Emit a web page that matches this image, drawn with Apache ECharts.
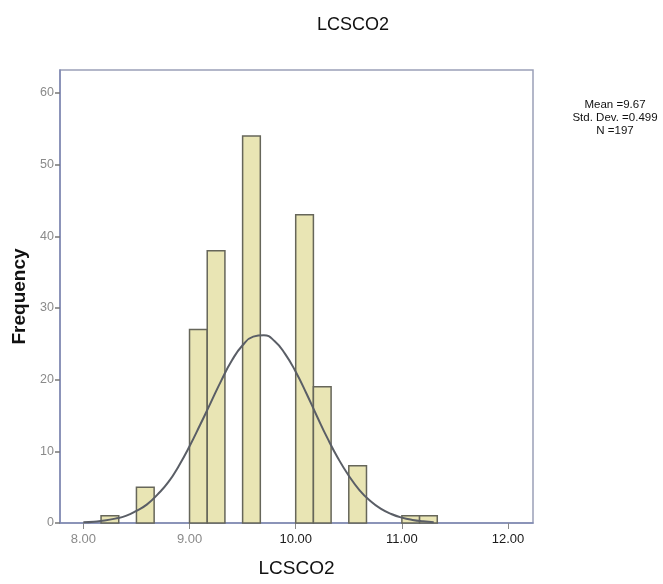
<!DOCTYPE html>
<html>
<head>
<meta charset="utf-8">
<script src="https://cdn.jsdelivr.net/npm/echarts@6/dist/echarts.min.js"></script>
<style>
  html, body { margin: 0; padding: 0; background: #fff; }
  #chart { width: 663px; height: 584px; }
</style>
</head>
<body>
<div id="chart"></div>
<script>
  // histogram bins (lower edge) and counts, bin width 1/6
  const binLows = [8.1667, 8.5, 9.0, 9.1667, 9.5, 10.0, 10.1667, 10.5, 11.0, 11.1667];
  const counts = [1, 5, 27, 38, 54, 43, 19, 8, 1, 1];
  const binWidth = 1 / 6;

  // normal curve
  const curveX = [8.0, 8.1, 8.2, 8.3, 8.4, 8.5, 8.6, 8.7, 8.8, 8.9, 9.0, 9.1, 9.2, 9.3, 9.4, 9.5, 9.6, 9.7,
                  9.8, 9.9, 10.0, 10.1, 10.2, 10.3, 10.4, 10.5, 10.6, 10.7, 10.8, 10.9, 11.0, 11.1, 11.2, 11.3];
  const curveY = [0.1, 0.19, 0.34, 0.61, 1.0, 1.7, 2.6, 4.0, 5.7, 8.0, 10.7, 13.7, 16.8, 19.9, 22.7, 24.8, 26.0, 26.2,
                  25.4, 23.6, 21.1, 18.1, 14.9, 11.8, 9.0, 6.6, 4.6, 3.1, 2.0, 1.26, 0.75, 0.43, 0.24, 0.12];

  const xTicks = [8, 9, 10, 11, 12];
  const yTicks = [0, 10, 20, 30, 40, 50, 60];
  const stats = ['Mean =9.67', 'Std. Dev. =0.499', 'N =197'];

  const chart = echarts.init(document.getElementById('chart'));

  const axisBlue = '#7f89b3';
  const font = 'Arial, "Liberation Sans", sans-serif';

  chart.setOption({
    backgroundColor: '#fff',
    animation: false,
    title: {
      text: 'LCSCO2',
      left: 348,
      top: 11,
      textAlign: 'center',
      textStyle: { fontFamily: font, fontSize: 18, fontWeight: 'normal', color: '#111' }
    },
    graphic: [{
      type: 'text',
      x: 615,
      y: 98,
      style: {
        text: stats.join('\n'),
        fontFamily: font,
        fontSize: 11.5,
        lineHeight: 13,
        fill: '#111',
        align: 'center',
        verticalAlign: 'top'
      }
    }],
    grid: {
      left: 60, right: 130, top: 70, bottom: 61,
      show: true,
      borderColor: '#9aa0b8',
      borderWidth: 1.5,
      backgroundColor: '#fff'
    },
    xAxis: {
      type: 'value',
      min: 7.78,
      max: 12.235,
      name: 'LCSCO2',
      nameLocation: 'middle',
      nameGap: 36,
      nameTextStyle: { fontFamily: font, fontSize: 19, color: '#111' },
      axisLine: { show: true, lineStyle: { color: axisBlue, width: 1.5 } },
      axisTick: { show: true, customValues: xTicks, length: 6, lineStyle: { color: '#888' } },
      axisLabel: {
        customValues: xTicks,
        margin: 10,
        fontFamily: font,
        fontSize: 13,
        formatter: (v) => {
          const s = v.toFixed(2);
          return v >= 10 ? '{d|' + s + '}' : '{g|' + s + '}';
        },
        rich: {
          d: { color: '#1a1a1a', fontFamily: font, fontSize: 13 },
          g: { color: '#8a8a8a', fontFamily: font, fontSize: 13 }
        }
      },
      splitLine: { show: false }
    },
    yAxis: {
      type: 'value',
      min: 0,
      max: 63.2,
      name: 'Frequency',
      nameLocation: 'middle',
      nameGap: 31,
      nameRotate: 90,
      nameTextStyle: { fontFamily: font, fontSize: 19, fontWeight: 'bold', color: '#111' },
      axisLine: { show: true, lineStyle: { color: axisBlue, width: 1.5 } },
      axisTick: { show: true, customValues: yTicks, length: 5, lineStyle: { color: '#777', width: 1.5 } },
      axisLabel: {
        customValues: yTicks,
        margin: 6,
        fontFamily: font,
        fontSize: 12.5,
        color: '#8a8a8a'
      },
      splitLine: { show: false }
    },
    series: [
      {
        type: 'custom',
        data: binLows.map((lo, i) => [lo, lo + binWidth, counts[i]]),
        renderItem: (params, api) => {
          const p0 = api.coord([api.value(0), 0]);
          const p1 = api.coord([api.value(1), api.value(2)]);
          return {
            type: 'rect',
            shape: { x: p0[0], y: p1[1], width: p1[0] - p0[0], height: p0[1] - p1[1] },
            style: { fill: '#e9e5b4', stroke: '#66665a', lineWidth: 1.5 }
          };
        },
        z: 2
      },
      {
        type: 'line',
        data: curveX.map((x, i) => [x, curveY[i]]),
        smooth: true,
        showSymbol: false,
        lineStyle: { color: '#5a5e66', width: 2 },
        z: 3
      }
    ]
  });
</script>
</body>
</html>
